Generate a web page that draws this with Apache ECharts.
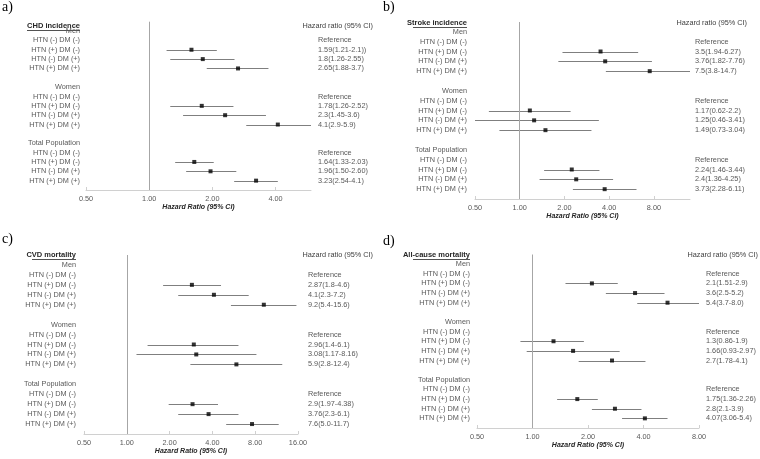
<!DOCTYPE html>
<html>
<head>
<meta charset="utf-8">
<script src="https://cdn.jsdelivr.net/npm/echarts@6/dist/echarts.min.js"></script>
<style>html,body{margin:0;padding:0;background:#fff;}#c{width:760px;height:459px;}</style>
</head>
<body>
<div id="c"></div>
<script>
// ---- data ----
const groups = ['Men', 'Women', 'Total Population'];
const rowLabels = ['HTN (-) DM (-)', 'HTN (+) DM (-)', 'HTN (-) DM (+)', 'HTN (+) DM (+)'];
const tickValues = [0.5, 1, 2, 4, 8, 16];

const chdTitle = 'CHD incidence';
const chdHR = [[null, 1.59, 1.8, 2.65], [null, 1.78, 2.3, 4.1], [null, 1.64, 1.96, 3.23]];
const chdLo = [[null, 1.21, 1.26, 1.88], [null, 1.26, 1.45, 2.9], [null, 1.33, 1.50, 2.54]];
const chdHi = [[null, 2.1, 2.55, 3.7], [null, 2.52, 3.6, 5.9], [null, 2.03, 2.60, 4.1]];
const chdText = [['Reference', '1.59(1.21-2.1))', '1.8(1.26-2.55)', '2.65(1.88-3.7)'],
                 ['Reference', '1.78(1.26-2.52)', '2.3(1.45-3.6)', '4.1(2.9-5.9)'],
                 ['Reference', '1.64(1.33-2.03)', '1.96(1.50-2.60)', '3.23(2.54-4.1)']];

const strokeTitle = 'Stroke incidence';
const strokeHR = [[null, 3.5, 3.76, 7.5], [null, 1.17, 1.25, 1.49], [null, 2.24, 2.4, 3.73]];
const strokeLo = [[null, 1.94, 1.82, 3.8], [null, 0.62, 0.46, 0.73], [null, 1.46, 1.36, 2.28]];
const strokeHi = [[null, 6.27, 7.76, 14.7], [null, 2.2, 3.41, 3.04], [null, 3.44, 4.25, 6.11]];
const strokeText = [['Reference', '3.5(1.94-6.27)', '3.76(1.82-7.76)', '7.5(3.8-14.7)'],
                    ['Reference', '1.17(0.62-2.2)', '1.25(0.46-3.41)', '1.49(0.73-3.04)'],
                    ['Reference', '2.24(1.46-3.44)', '2.4(1.36-4.25)', '3.73(2.28-6.11)']];

const cvdTitle = 'CVD mortality';
const cvdHR = [[null, 2.87, 4.1, 9.2], [null, 2.96, 3.08, 5.9], [null, 2.9, 3.76, 7.6]];
const cvdLo = [[null, 1.8, 2.3, 5.4], [null, 1.4, 1.17, 2.8], [null, 1.97, 2.3, 5.0]];
const cvdHi = [[null, 4.6, 7.2, 15.6], [null, 6.1, 8.16, 12.4], [null, 4.38, 6.1, 11.7]];
const cvdText = [['Reference', '2.87(1.8-4.6)', '4.1(2.3-7.2)', '9.2(5.4-15.6)'],
                 ['Reference', '2.96(1.4-6.1)', '3.08(1.17-8.16)', '5.9(2.8-12.4)'],
                 ['Reference', '2.9(1.97-4.38)', '3.76(2.3-6.1)', '7.6(5.0-11.7)']];

const allTitle = 'All-cause mortality';
const allHR = [[null, 2.1, 3.6, 5.4], [null, 1.3, 1.66, 2.7], [null, 1.75, 2.8, 4.07]];
const allLo = [[null, 1.51, 2.5, 3.7], [null, 0.86, 0.93, 1.78], [null, 1.36, 2.1, 3.06]];
const allHi = [[null, 2.9, 5.2, 8.0], [null, 1.9, 2.97, 4.1], [null, 2.26, 3.9, 5.4]];
const allText = [['Reference', '2.1(1.51-2.9)', '3.6(2.5-5.2)', '5.4(3.7-8.0)'],
                 ['Reference', '1.3(0.86-1.9)', '1.66(0.93-2.97)', '2.7(1.78-4.1)'],
                 ['Reference', '1.75(1.36-2.26)', '2.8(2.1-3.9)', '4.07(3.06-5.4)']];

const headerText = 'Hazard ratio (95% CI)';
const axisTitle = 'Hazard Ratio (95% CI)';

// ---- layout ----
const FONT = 'Liberation Sans, Arial, sans-serif';
const panels = [
  {letter: 'a)', title: chdTitle, hr: chdHR, lo: chdLo, hi: chdHi, text: chdText, max: 5.9,
   grid: {left: 86, top: 21.7, width: 225, height: 168.3}, lm: 6, rm: 7, showMax: false,
   letterPos: [2, 8], titlePos: [80, 26], ul: [27, 80], headerPos: [373, 26]},
  {letter: 'b)', title: strokeTitle, hr: strokeHR, lo: strokeLo, hi: strokeHi, text: strokeText, max: 14,
   grid: {left: 475, top: 22, width: 215, height: 177}, lm: 8, rm: 5, showMax: false,
   letterPos: [383, 8], titlePos: [467, 23], ul: [413, 467], headerPos: [747, 23]},
  {letter: 'c)', title: cvdTitle, hr: cvdHR, lo: cvdLo, hi: cvdHi, text: cvdText, max: 16,
   grid: {left: 84, top: 255, width: 214, height: 179}, lm: 8, rm: 10, showMax: true,
   letterPos: [2, 240], titlePos: [76, 255], ul: [32, 76], headerPos: [373, 255]},
  {letter: 'd)', title: allTitle, hr: allHR, lo: allLo, hi: allHi, text: allText, max: 8,
   grid: {left: 477, top: 254.5, width: 222, height: 173.5}, lm: 7, rm: 7, showMax: true,
   letterPos: [383, 242], titlePos: [470, 255], ul: [413, 470], headerPos: [758, 255]}
];

function catIndex(g, r) { return 1 + g * 6 + 1 + r; }

const leftCats = [''];
groups.forEach((g, gi) => {
  leftCats.push(g);
  rowLabels.forEach(r => leftCats.push(r));
  leftCats.push('');
});

const option = {
  animation: false,
  backgroundColor: '#ffffff',
  textStyle: {fontFamily: FONT},
  grid: [], xAxis: [], yAxis: [], series: [], graphic: []
};

panels.forEach((p, i) => {
  option.grid.push(Object.assign({containLabel: false}, p.grid));
  option.xAxis.push({
    type: 'log', logBase: 2, min: 0.5, max: p.max, gridIndex: i,
    axisLine: {show: true, lineStyle: {color: '#d0d0d0', width: 1}},
    axisTick: {show: true, inside: true, length: 3, lineStyle: {color: '#d0d0d0'}},
    splitLine: {show: false},
    axisLabel: {fontSize: 7.3, color: '#595959', margin: 5, fontFamily: FONT,
      showMaxLabel: p.showMax, showMinLabel: true,
      formatter: v => Number(v).toFixed(2)},
    name: axisTitle, nameLocation: 'middle', nameGap: 14,
    nameTextStyle: {fontSize: 7, fontWeight: 'bold', fontStyle: 'italic', color: '#262626', fontFamily: FONT}
  });
  const rightCats = leftCats.map(() => '');
  p.text.forEach((arr, g) => arr.forEach((t, r) => { rightCats[catIndex(g, r)] = t; }));
  option.yAxis.push({
    type: 'category', gridIndex: i, inverse: true, boundaryGap: false, data: leftCats,
    axisLine: {show: false}, axisTick: {show: false}, splitLine: {show: false},
    axisLabel: {interval: 0, fontSize: 7.3, color: '#595959', margin: p.lm, fontFamily: FONT}
  });
  option.yAxis.push({
    type: 'category', gridIndex: i, position: 'right', inverse: true, boundaryGap: false, data: rightCats,
    axisLine: {show: false}, axisTick: {show: false}, splitLine: {show: false},
    axisLabel: {interval: 0, fontSize: 7.3, color: '#595959', margin: p.rm, fontFamily: FONT, align: 'left'}
  });
  const ciData = [], ptData = [];
  p.hr.forEach((arr, g) => arr.forEach((v, r) => {
    if (v == null) return;
    ciData.push([p.lo[g][r], p.hi[g][r], catIndex(g, r)]);
    ptData.push([v, catIndex(g, r)]);
  }));
  option.series.push({
    type: 'custom', xAxisIndex: i, yAxisIndex: i * 2, clip: true, silent: true,
    encode: {x: [0, 1], y: 2},
    data: ciData,
    renderItem: function (params, api) {
      const y = api.value(2);
      const a = api.coord([api.value(0), y]);
      const b = api.coord([api.value(1), y]);
      return {type: 'line', shape: {x1: a[0], y1: Math.round(a[1]) + 0.5, x2: b[0], y2: Math.round(b[1]) + 0.5},
              style: {stroke: '#7f7f7f', lineWidth: 1}};
    },
    z: 2
  });
  option.series.push({
    type: 'scatter', xAxisIndex: i, yAxisIndex: i * 2, symbol: 'rect', symbolSize: 4,
    itemStyle: {color: '#000000'}, data: ptData, silent: true, z: 3,
    markLine: {silent: true, symbol: 'none', label: {show: false},
      lineStyle: {color: '#a6a6a6', type: 'solid', width: 1}, data: [{xAxis: 1}]}
  });
  option.graphic.push({type: 'text', left: p.letterPos[0], top: p.letterPos[1] - 8,
    style: {text: p.letter, font: '14px "Liberation Serif", serif', fill: '#000'}});
  option.graphic.push({type: 'text', x: p.titlePos[0], y: p.titlePos[1],
    style: {text: p.title, font: 'bold 7.5px "Liberation Sans", Arial, sans-serif', fill: '#262626',
      align: 'right', verticalAlign: 'middle'}});
  option.graphic.push({type: 'line', shape: {x1: p.ul[0], y1: p.titlePos[1] + 4.5, x2: p.ul[1], y2: p.titlePos[1] + 4.5},
    style: {stroke: '#262626', lineWidth: 0.8}});
  option.graphic.push({type: 'text', x: p.headerPos[0], y: p.headerPos[1],
    style: {text: headerText, font: '7.3px "Liberation Sans", Arial, sans-serif', fill: '#404040',
      align: 'right', verticalAlign: 'middle'}});
});

const chart = echarts.init(document.getElementById('c'), null, {renderer: 'canvas'});
chart.setOption(option);
</script>
</body>
</html>
